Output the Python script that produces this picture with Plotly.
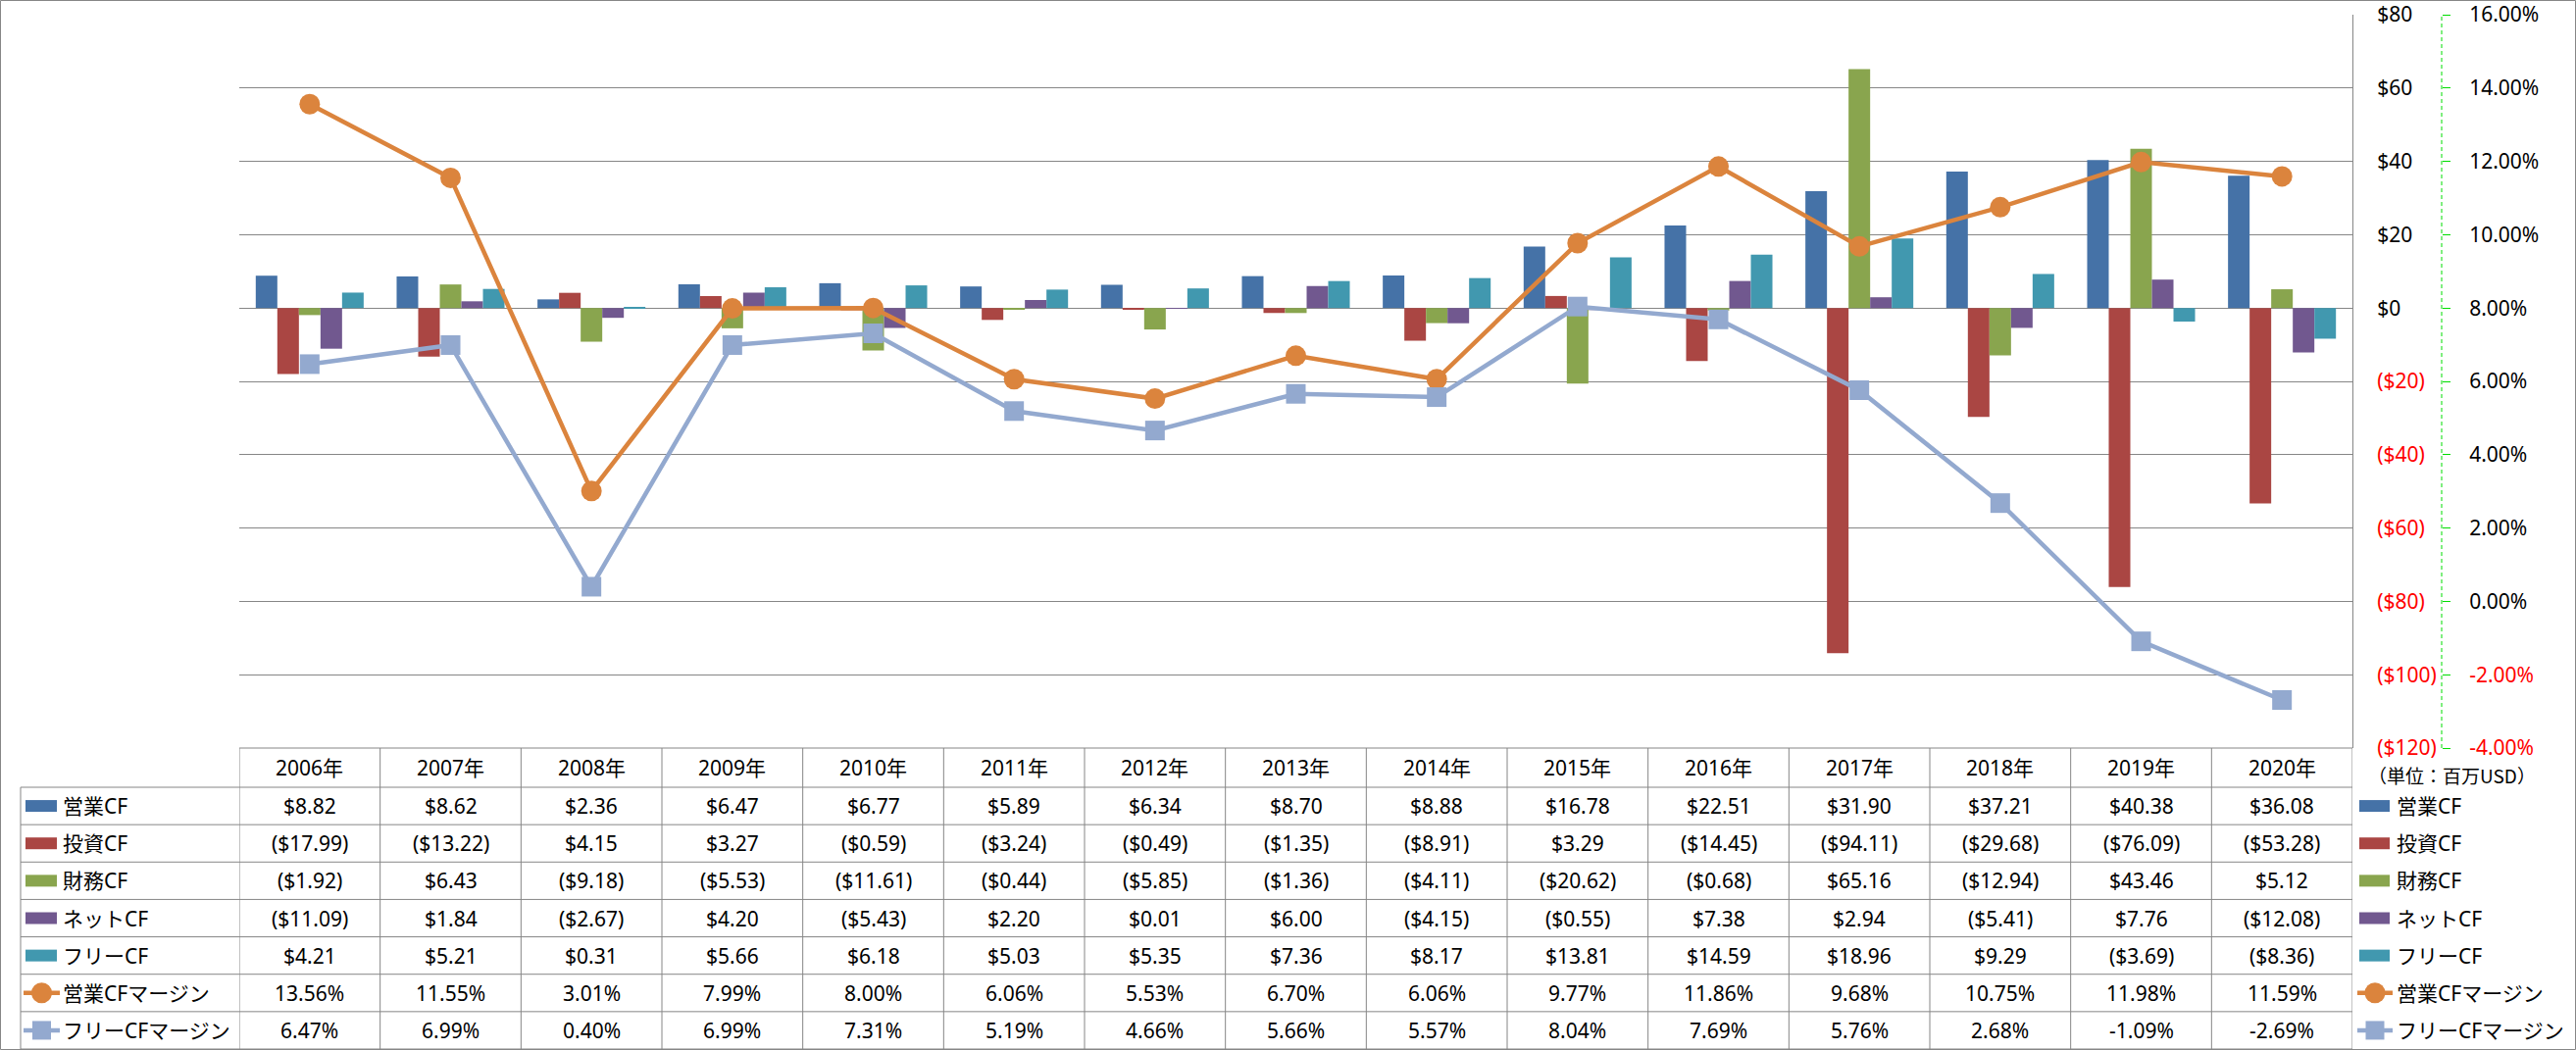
import plotly.graph_objects as go

# ---------------- data ----------------
years = ["2006年", "2007年", "2008年", "2009年", "2010年", "2011年", "2012年", "2013年",
         "2014年", "2015年", "2016年", "2017年", "2018年", "2019年", "2020年"]
op_cf = [8.82, 8.62, 2.36, 6.47, 6.77, 5.89, 6.34, 8.70, 8.88, 16.78, 22.51, 31.90, 37.21, 40.38, 36.08]
inv_cf = [-17.99, -13.22, 4.15, 3.27, -0.59, -3.24, -0.49, -1.35, -8.91, 3.29, -14.45, -94.11, -29.68, -76.09, -53.28]
fin_cf = [-1.92, 6.43, -9.18, -5.53, -11.61, -0.44, -5.85, -1.36, -4.11, -20.62, -0.68, 65.16, -12.94, 43.46, 5.12]
net_cf = [-11.09, 1.84, -2.67, 4.20, -5.43, 2.20, 0.01, 6.00, -4.15, -0.55, 7.38, 2.94, -5.41, 7.76, -12.08]
free_cf = [4.21, 5.21, 0.31, 5.66, 6.18, 5.03, 5.35, 7.36, 8.17, 13.81, 14.59, 18.96, 9.29, -3.69, -8.36]
op_margin = [13.56, 11.55, 3.01, 7.99, 8.00, 6.06, 5.53, 6.70, 6.06, 9.77, 11.86, 9.68, 10.75, 11.98, 11.59]
free_margin = [6.47, 6.99, 0.40, 6.99, 7.31, 5.19, 4.66, 5.66, 5.57, 8.04, 7.69, 5.76, 2.68, -1.09, -2.69]

bar_names = ["営業CF", "投資CF", "財務CF", "ネットCF", "フリーCF"]
line_names = ["営業CFマージン", "フリーCFマージン"]
usd_ticks = [80, 60, 40, 20, 0, -20, -40, -60, -80, -100, -120]
pct_ticks = [16, 14, 12, 10, 8, 6, 4, 2, 0, -2, -4]
unit_label = "（単位：百万USD）"

# ---------------- styling ----------------
W, H = 2627, 1071
FONT = "Noto Sans, Noto Sans CJK JP, sans-serif"
GRAY = "#868686"
RED = "#FF0000"
bar_colors = ["#4572A7", "#AA4643", "#89A54E", "#71588F", "#4198AF"]
line_colors = ["#DB843D", "#93A9CF"]
line_symbols = ["circle", "square"]


def px(x):
    return x / W


def py(y):
    return 1 - y / H


PLOT_L, PLOT_R, PLOT_T, PLOT_B = 244, 2399, 15, 763
TABLE_L = 21
ROW0 = 803
ROW_H = (1070 - 803) / 7


def cur(v):
    return f"${v:.2f}" if v >= 0 else f"(${-v:.2f})"


def pct(v):
    return f"{v:.2f}%"


def usd_tick(v):
    return f"${v}" if v >= 0 else f'<span style="color:{RED}">(${-v})</span>'


def pct_tick(v):
    s = f"{v:.2f}%"
    return s if v >= 0 else f'<span style="color:{RED}">{s}</span>'


fig = go.Figure()

bar_series = [op_cf, inv_cf, fin_cf, net_cf, free_cf]
for name, vals, col in zip(bar_names, bar_series, bar_colors):
    fig.add_trace(go.Bar(x=years, y=vals, name=name, marker=dict(color=col, line=dict(width=0)),
                         yaxis="y"))

line_series = [op_margin, free_margin]
for name, vals, col, sym in zip(line_names, line_series, line_colors, line_symbols):
    fig.add_trace(go.Scatter(x=years, y=vals, name=name, mode="lines+markers", yaxis="y2",
                             line=dict(color=col, width=4.5),
                             marker=dict(color=col, size=21 if sym == "circle" else 20, symbol=sym,
                                         line=dict(width=0)),
                             cliponaxis=False))

shapes = []
annotations = []

# secondary axis dashed green line
shapes.append(dict(type="line", xref="paper", yref="paper", x0=px(2490), x1=px(2490),
                   y0=py(PLOT_B), y1=py(PLOT_T), line=dict(color="#00DD00", width=1, dash="4px,3px")))

# table: header top
shapes.append(dict(type="line", xref="x", yref="paper", x0=-0.5, x1=len(years) - 0.5,
                   y0=py(PLOT_B), y1=py(PLOT_B), line=dict(color=GRAY, width=1)))
# row lines
n_rows = 7
for k in range(n_rows + 1):
    yy = ROW0 + ROW_H * k
    shapes.append(dict(type="line", xref="paper", yref="paper", x0=px(TABLE_L), x1=px(PLOT_R),
                       y0=py(yy), y1=py(yy), line=dict(color=GRAY, width=1)))
# vertical lines
shapes.append(dict(type="line", xref="paper", yref="paper", x0=px(TABLE_L), x1=px(TABLE_L),
                   y0=py(ROW0), y1=py(1070), line=dict(color=GRAY, width=1)))
for i in range(len(years) + 1):
    shapes.append(dict(type="line", xref="x", yref="paper", x0=i - 0.5, x1=i - 0.5,
                       y0=py(PLOT_B), y1=py(1070), line=dict(color=GRAY, width=1)))

# outer border
shapes.append(dict(type="rect", xref="paper", yref="paper", x0=px(0.5), x1=px(W - 0.5),
                   y0=py(1070.5), y1=py(0.5), line=dict(color=GRAY, width=1)))

# header texts
for yr in years:
    annotations.append(dict(xref="x", yref="paper", x=yr, y=py((PLOT_B + ROW0) / 2), text=yr,
                            showarrow=False, font=dict(size=21, color="black", family=FONT),
                            xanchor="center", yanchor="middle"))

rows = [(v, cur) for v in bar_series] + [(v, pct) for v in line_series]
for k, (vals, f) in enumerate(rows):
    yc = ROW0 + ROW_H * (k + 0.5)
    for yr, v in zip(years, vals):
        annotations.append(dict(xref="x", yref="paper", x=yr, y=py(yc), text=f(v), showarrow=False,
                                font=dict(size=21, color="black", family=FONT),
                                xanchor="center", yanchor="middle"))


def legend_entry(k, x_sw0, x_sw1, x_text, kind, col, sym, name):
    yc = ROW0 + ROW_H * (k + 0.5)
    if kind == "bar":
        shapes.append(dict(type="rect", xref="paper", yref="paper", x0=px(x_sw0), x1=px(x_sw1),
                           y0=py(yc + 6), y1=py(yc - 6), fillcolor=col, line=dict(width=0)))
    else:
        shapes.append(dict(type="line", xref="paper", yref="paper", x0=px(x_sw0 - 2), x1=px(x_sw1 + 3),
                           y0=py(yc), y1=py(yc), line=dict(color=col, width=4.5)))
        cx = (x_sw0 + x_sw1) / 2 + 0.5
        r = 10.5 if sym == "circle" else 9.5
        shapes.append(dict(type="circle" if sym == "circle" else "rect", xref="paper", yref="paper",
                           xsizemode="pixel", ysizemode="pixel", xanchor=px(cx), yanchor=py(yc),
                           x0=-r, x1=r, y0=-r, y1=r, fillcolor=col, line=dict(width=0)))
    annotations.append(dict(xref="paper", yref="paper", x=px(x_text), y=py(yc), text=name,
                            showarrow=False, font=dict(size=21, color="black", family=FONT),
                            xanchor="left", yanchor="middle"))


for k, (name, col) in enumerate(zip(bar_names, bar_colors)):
    legend_entry(k, 26, 58, 62, "bar", col, None, name)
    legend_entry(k, 2406, 2437, 2442, "bar", col, None, name)
for j, (name, col, sym) in enumerate(zip(line_names, line_colors, line_symbols)):
    legend_entry(5 + j, 26, 58, 62, "line", col, sym, name)
    legend_entry(5 + j, 2406, 2437, 2442, "line", col, sym, name)

annotations.append(dict(xref="paper", yref="paper", x=px(2413), y=py(790), text=unit_label,
                        showarrow=False, font=dict(size=19, color="black", family="Noto Sans CJK JP"),
                        xanchor="left", yanchor="middle"))

fig.update_layout(
    width=W, height=H,
    margin=dict(l=0, r=0, t=0, b=0, pad=0, autoexpand=False),
    paper_bgcolor="white", plot_bgcolor="white",
    showlegend=False,
    barmode="group", bargap=0.234, bargroupgap=0,
    font=dict(family=FONT, size=21, color="black"),
    xaxis=dict(domain=[px(PLOT_L), px(PLOT_R)], type="category", range=[-0.5, len(years) - 0.5],
               showgrid=False, showticklabels=False, showline=False, zeroline=False, ticks="",
               automargin=False),
    yaxis=dict(domain=[py(PLOT_B), py(PLOT_T)], range=[-120, 80], side="right",
               showline=True, linecolor=GRAY, linewidth=1,
               showgrid=True, gridcolor=GRAY, gridwidth=1, zeroline=False,
               tickvals=usd_ticks, ticktext=[usd_tick(v) for v in usd_ticks], ticks="",
               tickfont=dict(size=21, color="black", family=FONT), ticklabelstandoff=20,
               automargin=False),
    yaxis2=dict(overlaying="y", side="right", anchor="free", position=px(2490), range=[-4, 16],
                showgrid=False, showline=False, zeroline=False,
                tickvals=pct_ticks, ticktext=[pct_tick(v) for v in pct_ticks],
                ticks="outside", ticklen=8, tickcolor="#00DD00", tickwidth=1,
                tickfont=dict(size=21, color="black", family=FONT), ticklabelstandoff=15,
                automargin=False),
    shapes=shapes,
    annotations=annotations,
)

fig.write_html("out.html",
               config={"displayModeBar": False},
               post_script="document.body.style.margin='0';document.body.style.padding='0';"
                           "document.body.style.overflow='hidden';")
